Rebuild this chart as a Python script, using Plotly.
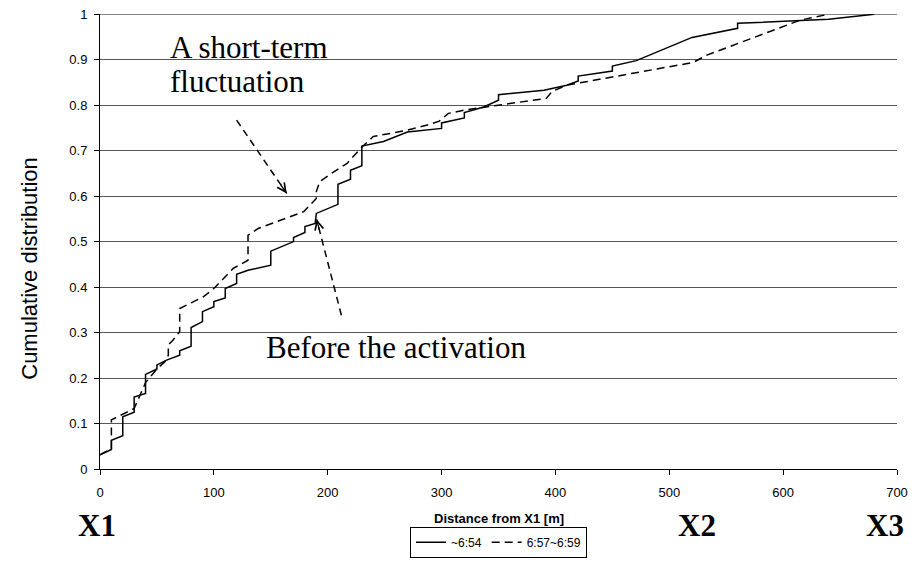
import plotly.graph_objects as go

# Solid series (~6:54): distance [m], cumulative distribution
solid_x = [0, 10, 10, 20, 20, 30, 30, 40, 40, 50, 50, 59, 70, 70, 80, 80, 90, 90, 100, 100,
           110, 110, 120, 120, 130, 150, 150, 170, 170, 180, 180, 189, 190, 209, 209, 220, 220,
           230, 230, 249, 270, 300, 300, 320, 320, 337, 350, 350, 390, 410, 420, 420, 450, 450,
           471, 520, 560, 560, 640, 680]
solid_y = [0.031, 0.043, 0.063, 0.073, 0.115, 0.125, 0.158, 0.166, 0.208, 0.220, 0.229, 0.240,
           0.250, 0.260, 0.270, 0.311, 0.324, 0.346, 0.357, 0.368, 0.376, 0.397, 0.408, 0.428,
           0.437, 0.448, 0.479, 0.500, 0.509, 0.520, 0.533, 0.540, 0.562, 0.582, 0.626, 0.637,
           0.657, 0.667, 0.710, 0.720, 0.741, 0.749, 0.761, 0.772, 0.784, 0.796, 0.811, 0.823,
           0.833, 0.844, 0.853, 0.864, 0.875, 0.886, 0.898, 0.949, 0.969, 0.980, 0.989, 1.0]

# Dashed series (6:57~6:59)
dash_x = [0, 10, 10, 19, 25, 30, 40, 50, 57, 60, 60, 64, 70, 70, 91, 100, 117, 130, 130, 139,
          179, 186, 190, 190, 193, 205, 217, 230, 240, 270, 290, 298, 306, 322, 392, 397, 410,
          521, 533, 615, 640]
dash_y = [0.031, 0.045, 0.108, 0.119, 0.126, 0.133, 0.190, 0.220, 0.236, 0.250, 0.273, 0.283,
          0.302, 0.353, 0.379, 0.397, 0.441, 0.459, 0.514, 0.529, 0.566, 0.584, 0.595, 0.610,
          0.632, 0.653, 0.672, 0.708, 0.731, 0.745, 0.758, 0.765, 0.782, 0.790, 0.815, 0.830,
          0.844, 0.894, 0.910, 0.987, 1.0]

series_names = ["~6:54", "6:57~6:59"]
x_ticks = [0, 100, 200, 300, 400, 500, 600, 700]
y_ticks = [0, 0.1, 0.2, 0.3, 0.4, 0.5, 0.6, 0.7, 0.8, 0.9, 1]
y_tick_text = ["0", "0.1", "0.2", "0.3", "0.4", "0.5", "0.6", "0.7", "0.8", "0.9", "1"]
point_labels = ["X1", "X2", "X3"]
point_pos = [0, 524, 700]
point_anchor = ["center", "center", "right"]
point_shift = [-3, 0, 9]

# annotation arrows: (tail_x, tail_y, tip_x, tip_y)
arrow1 = (120, 0.767, 164, 0.606)
arrow2 = (212, 0.338, 190.3, 0.549)

SANS = "Liberation Sans, Arial, sans-serif"
SERIF = "Liberation Serif, Times New Roman, serif"
GRID = "#555555"

fig = go.Figure()
fig.add_trace(go.Scatter(x=solid_x, y=solid_y, mode="lines", name=series_names[0],
                         line=dict(color="black", width=1.5)))
fig.add_trace(go.Scatter(x=dash_x, y=dash_y, mode="lines", name=series_names[1],
                         line=dict(color="black", width=1.5, dash="8px,5px")))

# dashed arrow shafts
for (tx, ty, hx, hy) in (arrow1, arrow2):
    fig.add_trace(go.Scatter(x=[tx, hx], y=[ty, hy], mode="lines", showlegend=False,
                             hoverinfo="skip",
                             line=dict(color="black", width=1.5, dash="7px,5px")))

# top gridline (at y = 1, the plot edge)
fig.add_hline(y=y_ticks[-1], line=dict(color=GRID, width=1), layer="below")

annotations = []
# arrowheads
annotations.append(dict(x=arrow1[2], y=arrow1[3], xref="x", yref="y", showarrow=True,
                        ax=-7, ay=-10, arrowhead=5, arrowsize=1.3, arrowwidth=1.3,
                        arrowcolor="black", text=""))
annotations.append(dict(x=arrow2[2], y=arrow2[3], xref="x", yref="y", showarrow=True,
                        ax=3, ay=12, arrowhead=5, arrowsize=1.3, arrowwidth=1.3,
                        arrowcolor="black", text=""))
annotations.append(dict(x=59.7, y=0.927, xref="x", yref="y", xanchor="left", yanchor="middle",
                        showarrow=False, text="A short-term",
                        font=dict(family=SERIF, size=31, color="black")))
annotations.append(dict(x=59.7, y=0.851, xref="x", yref="y", xanchor="left", yanchor="middle",
                        showarrow=False, text="fluctuation",
                        font=dict(family=SERIF, size=31, color="black")))
annotations.append(dict(x=144, y=0.268, xref="x", yref="y", xanchor="left", yanchor="middle",
                        showarrow=False, text="Before the activation",
                        font=dict(family=SERIF, size=31, color="black")))
for lab, pos, anc, sh in zip(point_labels, point_pos, point_anchor, point_shift):
    annotations.append(dict(x=pos, y=-0.125, xref="x", yref="paper", xanchor=anc,
                            yanchor="middle", showarrow=False, text="<b>%s</b>" % lab,
                            xshift=sh, font=dict(family=SERIF, size=31, color="black")))
annotations.append(dict(x=0.5, y=-0.108, xref="paper", yref="paper", xanchor="center",
                        yanchor="middle", showarrow=False, text="<b>Distance from X1 [m]</b>",
                        font=dict(family=SANS, size=13, color="black")))
annotations.append(dict(x=-0.088, y=0.442, xref="paper", yref="paper", xanchor="center",
                        yanchor="middle", showarrow=False, text="Cumulative distribution",
                        textangle=-90, font=dict(family=SANS, size=22, color="black")))

# the page body adds an 8px offset; size the figure so the plot area lands in place
fig.update_layout(
    width=900, height=550,
    margin=dict(l=92, r=11, t=6, b=89, autoexpand=False),
    paper_bgcolor="white", plot_bgcolor="white",
    showlegend=True,
    legend=dict(orientation="h", x=0.5, xanchor="center", y=-0.127, yanchor="top",
                bordercolor="black", borderwidth=1, bgcolor="white",
                font=dict(family=SANS, size=12, color="black"),
                itemwidth=30, tracegroupgap=0),
    annotations=annotations,
    font=dict(family=SANS, size=13, color="black"),
)
fig.update_xaxes(range=[0, 700], tickvals=x_ticks, showgrid=False, zeroline=False,
                 showline=True, linecolor="black", linewidth=1,
                 ticks="outside", ticklen=5, tickcolor="black", ticklabelstandoff=6,
                 ticklabeloverflow="allow",
                 tickfont=dict(family=SANS, size=13, color="black"))
fig.update_yaxes(range=[0, 1.0005], tickvals=y_ticks, ticktext=y_tick_text, showgrid=True,
                 gridcolor=GRID, gridwidth=1, zeroline=False,
                 showline=True, linecolor="black", linewidth=1,
                 ticks="outside", ticklen=5, tickcolor="black", ticklabelstandoff=4,
                 ticklabeloverflow="allow",
                 tickfont=dict(family=SANS, size=13, color="black"))

fig.write_html("out.html")
